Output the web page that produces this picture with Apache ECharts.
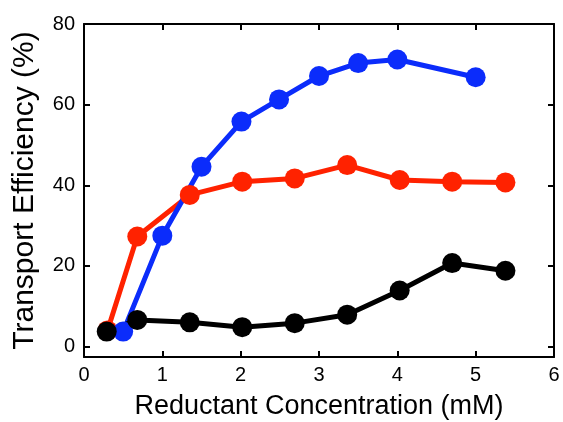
<!DOCTYPE html>
<html>
<head>
<meta charset="utf-8">
<script src="https://cdn.jsdelivr.net/npm/echarts@6/dist/echarts.min.js"></script>
<style>
  html, body { margin: 0; padding: 0; background: #fff; }
  #main { width: 563px; height: 422px; }
</style>
</head>
<body>
<div id="main"></div>
<script>
// reductant concentration (mM) and transport efficiency (%) for each curve
var redX = [0.3, 0.68, 1.35, 2.02, 2.69, 3.36, 4.03, 4.70, 5.38];
var redY = [4.0, 27.3, 37.6, 40.9, 41.7, 45.0, 41.3, 40.9, 40.7];

var blueX = [0.5, 1.0, 1.5, 2.01, 2.49, 3.0, 3.5, 4.0, 5.0];
var blueY = [3.7, 27.5, 44.6, 55.8, 61.3, 67.1, 70.3, 71.2, 66.8];

var blackX = [0.29, 0.68, 1.35, 2.02, 2.69, 3.36, 4.03, 4.70, 5.38];
var blackY = [3.7, 6.6, 6.0, 4.8, 5.8, 7.9, 13.9, 20.7, 18.8];

var yTicks = [0, 20, 40, 60, 80];

function pairs(xs, ys) {
  var out = [];
  for (var i = 0; i < xs.length; i++) out.push([xs[i], ys[i]]);
  return out;
}

function line(name, color, xs, ys) {
  return {
    name: name,
    type: "line",
    data: pairs(xs, ys),
    symbol: "circle",
    symbolSize: 20,
    lineStyle: { color: color, width: 5 },
    itemStyle: { color: color },
    animation: false
  };
}

var fontFam = "Liberation Sans, Arial, sans-serif";
var axisLine = { show: true, onZero: false, lineStyle: { color: "#000", width: 2 } };
var tick = { show: true, inside: true, length: 6, lineStyle: { color: "#000", width: 2 } };

var myChart = echarts.init(document.getElementById("main"));

myChart.setOption({
  backgroundColor: "#fff",
  grid: { left: 84, right: 9, top: 24, bottom: 65, outerBoundsMode: "none" },
  xAxis: [
    {
      type: "value",
      min: 0,
      max: 6,
      interval: 1,
      name: "Reductant Concentration (mM)",
      nameLocation: "middle",
      nameGap: 36,
      nameTextStyle: { fontFamily: fontFam, fontSize: 27, color: "#000" },
      axisLine: axisLine,
      axisTick: tick,
      axisLabel: { fontFamily: fontFam, fontSize: 20, color: "#000", margin: 8 },
      splitLine: { show: false }
    },
    {
      type: "value",
      position: "top",
      min: 0,
      max: 6,
      interval: 1,
      axisLine: axisLine,
      axisTick: tick,
      axisLabel: { show: false },
      splitLine: { show: false }
    }
  ],
  yAxis: [
    {
      type: "value",
      min: -2.6,
      max: 80,
      name: "Transport Efficiency (%)",
      nameLocation: "middle",
      nameGap: 44,
      nameTextStyle: { fontFamily: fontFam, fontSize: 30, color: "#000" },
      axisLine: axisLine,
      axisTick: Object.assign({ customValues: yTicks }, tick),
      axisLabel: { fontFamily: fontFam, fontSize: 20, color: "#000", margin: 9, customValues: yTicks },
      splitLine: { show: false }
    },
    {
      type: "value",
      position: "right",
      min: -2.6,
      max: 80,
      axisLine: axisLine,
      axisTick: Object.assign({ customValues: yTicks }, tick),
      axisLabel: { show: false },
      splitLine: { show: false }
    }
  ],
  series: [
    line("red", "#ff2200", redX, redY),
    line("blue", "#0b2cfb", blueX, blueY),
    line("black", "#000000", blackX, blackY)
  ]
});
</script>
</body>
</html>
